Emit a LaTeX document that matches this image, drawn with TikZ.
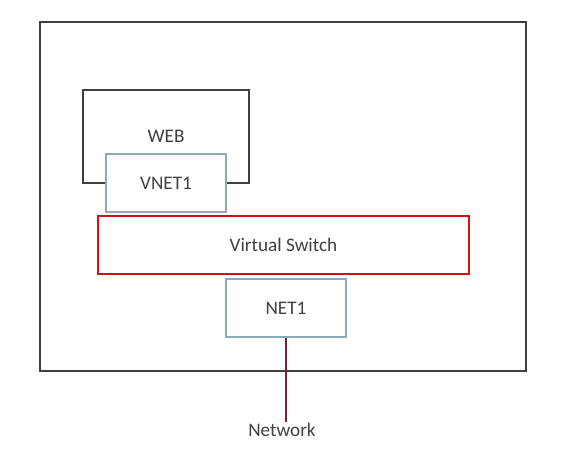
\documentclass[tikz,border=0pt]{standalone}
\usepackage{fontspec}
\setmainfont{Carlito}
\usetikzlibrary{positioning}

\definecolor{framegray}{HTML}{404040}
\definecolor{labelgray}{HTML}{404040}
\definecolor{nicblue}{HTML}{8EA9B8}
\definecolor{switchred}{HTML}{CC1414}
\definecolor{wirered}{HTML}{7A1F48}

\tikzset{
  box/.style={draw, rectangle, inner sep=0pt, line width=1.3pt},
  hostbox/.style={box, draw=framegray},
  nicbox/.style={box, draw=nicblue, fill=white, minimum width=120, minimum height=58},
  switchbox/.style={box, draw=switchred, line width=1.8pt},
}

\begin{document}
\begin{tikzpicture}[x=1pt, y=-1pt, font=\fontsize{19.2}{22}\selectfont, text=labelgray]

\useasboundingbox (0,0) rectangle (561,453);

% host
\node[hostbox, minimum width=486, minimum height=349] (host) at (283,196.5) {};

% guest and its interface
\node[hostbox, minimum width=166, minimum height=93] (web) at (166,136.5) {WEB};
\node[nicbox] (vnet) at (166,183) {VNET1};

% switch
\node[switchbox, minimum width=371, minimum height=58] (switch) at (283.5,245) {Virtual Switch};

% physical interface
\node[nicbox] (net) at (286,308) {NET1};

% uplink
\node[inner sep=1pt] (network) at (282,430) {Network};
\draw[wirered, line width=1.3pt] (net.south) -- (net.south |- network.north);

\end{tikzpicture}
\end{document}
